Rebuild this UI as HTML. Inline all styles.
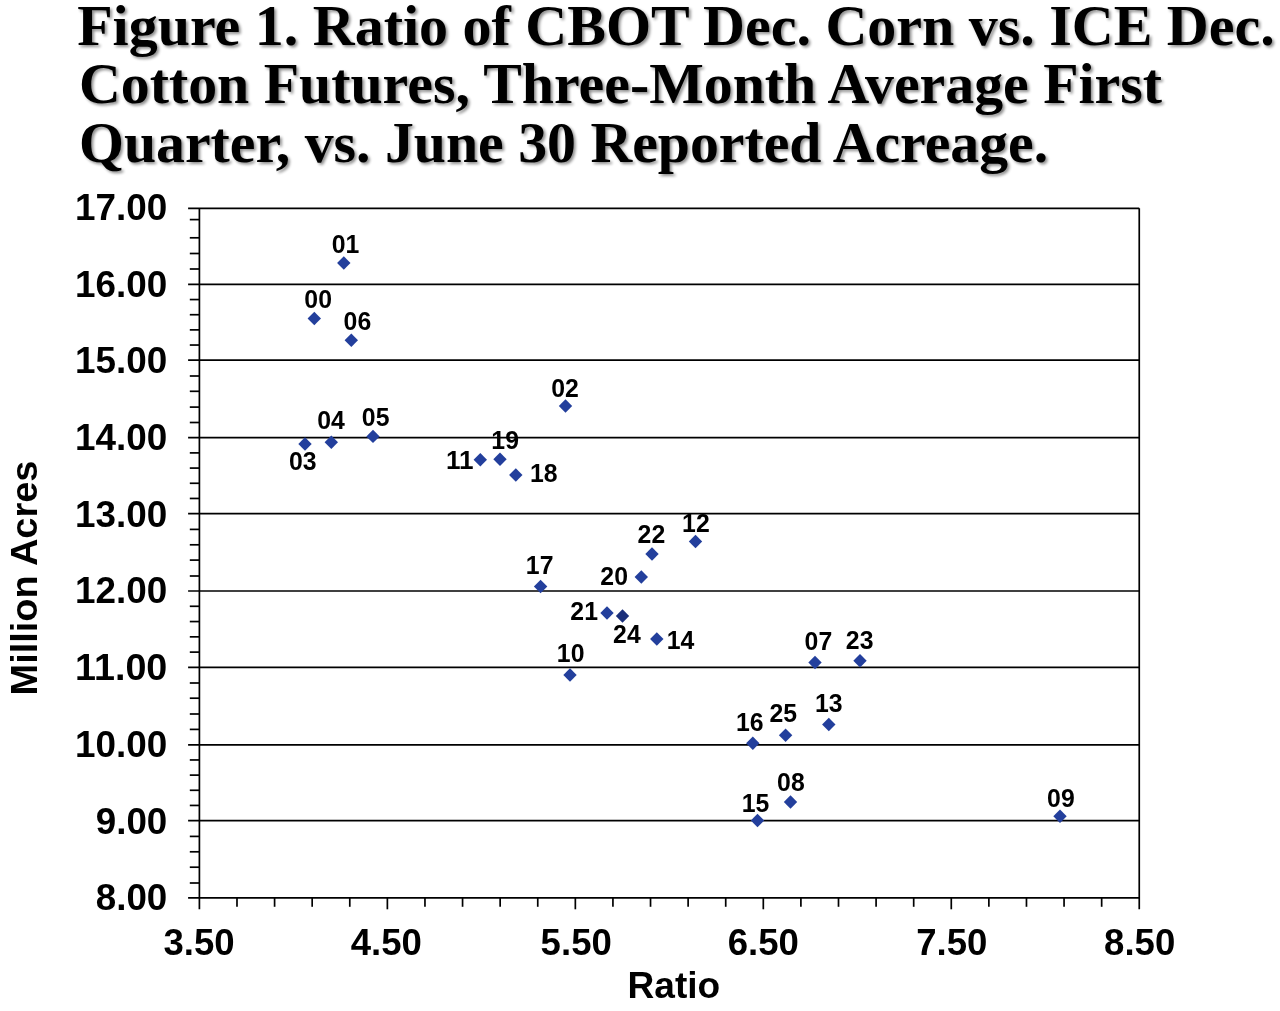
<!DOCTYPE html>
<html lang="en"><head><meta charset="utf-8"><title>Figure 1</title>
<style>
html,body{margin:0;padding:0;background:#fff;}
body{width:1280px;height:1011px;overflow:hidden;position:relative;}
svg{position:absolute;left:0;top:0;display:block;}
.t{font-family:"Liberation Serif","Times New Roman",serif;font-weight:bold;font-size:56px;fill:#000;}
.a{font-family:"Liberation Sans",Arial,sans-serif;font-weight:bold;font-size:36px;fill:#000;}
.d{font-family:"Liberation Sans",Arial,sans-serif;font-weight:bold;font-size:25.5px;fill:#000;}
</style></head><body>
<svg width="1280" height="1011" viewBox="0 0 1280 1011">
<defs><filter id="sh" x="-5%" y="-20%" width="110%" height="150%"><feGaussianBlur in="SourceAlpha" stdDeviation="1.5" result="b"/><feOffset in="b" dx="2" dy="2" result="o"/><feComponentTransfer in="o" result="s"><feFuncA type="linear" slope="0.45"/></feComponentTransfer><feMerge><feMergeNode in="s"/><feMergeNode in="SourceGraphic"/></feMerge></filter></defs>
<rect width="1280" height="1011" fill="#fff"/>

<g filter="url(#sh)">
<text class="t" x="77.2" y="44.5" textLength="1197.5" lengthAdjust="spacingAndGlyphs">Figure 1. Ratio of CBOT Dec. Corn vs. ICE Dec.</text>
<text class="t" x="79" y="103" textLength="1083" lengthAdjust="spacingAndGlyphs">Cotton Futures, Three-Month Average First</text>
<text class="t" x="79" y="162" textLength="969.2" lengthAdjust="spacingAndGlyphs">Quarter, vs. June 30 Reported Acreage.</text>
</g>
<g stroke="#000" stroke-width="1.7" fill="none">
<line x1="188.10" y1="208.30" x2="1139.25" y2="208.30"/>
<line x1="188.10" y1="284.40" x2="1139.25" y2="284.40"/>
<line x1="188.10" y1="360.20" x2="1139.25" y2="360.20"/>
<line x1="188.10" y1="437.70" x2="1139.25" y2="437.70"/>
<line x1="188.10" y1="513.65" x2="1139.25" y2="513.65"/>
<line x1="188.10" y1="591.00" x2="1139.25" y2="591.00"/>
<line x1="188.10" y1="667.40" x2="1139.25" y2="667.40"/>
<line x1="188.10" y1="744.80" x2="1139.25" y2="744.80"/>
<line x1="188.10" y1="820.60" x2="1139.25" y2="820.60"/>
<line x1="188.10" y1="897.80" x2="1139.25" y2="897.80"/>
<line x1="189.80" y1="219.60" x2="199.40" y2="219.60"/>
<line x1="189.80" y1="237.80" x2="199.40" y2="237.80"/>
<line x1="189.80" y1="253.50" x2="199.40" y2="253.50"/>
<line x1="189.80" y1="269.00" x2="199.40" y2="269.00"/>
<line x1="189.80" y1="299.56" x2="199.40" y2="299.56"/>
<line x1="189.80" y1="314.72" x2="199.40" y2="314.72"/>
<line x1="189.80" y1="329.88" x2="199.40" y2="329.88"/>
<line x1="189.80" y1="345.04" x2="199.40" y2="345.04"/>
<line x1="189.80" y1="376.00" x2="199.40" y2="376.00"/>
<line x1="189.80" y1="391.30" x2="199.40" y2="391.30"/>
<line x1="189.80" y1="407.10" x2="199.40" y2="407.10"/>
<line x1="189.80" y1="422.50" x2="199.40" y2="422.50"/>
<line x1="189.80" y1="452.89" x2="199.40" y2="452.89"/>
<line x1="189.80" y1="468.08" x2="199.40" y2="468.08"/>
<line x1="189.80" y1="483.27" x2="199.40" y2="483.27"/>
<line x1="189.80" y1="498.46" x2="199.40" y2="498.46"/>
<line x1="189.80" y1="529.40" x2="199.40" y2="529.40"/>
<line x1="189.80" y1="544.80" x2="199.40" y2="544.80"/>
<line x1="189.80" y1="560.10" x2="199.40" y2="560.10"/>
<line x1="189.80" y1="576.00" x2="199.40" y2="576.00"/>
<line x1="189.80" y1="606.28" x2="199.40" y2="606.28"/>
<line x1="189.80" y1="621.56" x2="199.40" y2="621.56"/>
<line x1="189.80" y1="636.84" x2="199.40" y2="636.84"/>
<line x1="189.80" y1="652.12" x2="199.40" y2="652.12"/>
<line x1="189.80" y1="683.00" x2="199.40" y2="683.00"/>
<line x1="189.80" y1="698.20" x2="199.40" y2="698.20"/>
<line x1="189.80" y1="714.00" x2="199.40" y2="714.00"/>
<line x1="189.80" y1="729.40" x2="199.40" y2="729.40"/>
<line x1="189.80" y1="759.96" x2="199.40" y2="759.96"/>
<line x1="189.80" y1="775.12" x2="199.40" y2="775.12"/>
<line x1="189.80" y1="790.28" x2="199.40" y2="790.28"/>
<line x1="189.80" y1="805.44" x2="199.40" y2="805.44"/>
<line x1="189.80" y1="836.40" x2="199.40" y2="836.40"/>
<line x1="189.80" y1="851.80" x2="199.40" y2="851.80"/>
<line x1="189.80" y1="867.20" x2="199.40" y2="867.20"/>
<line x1="189.80" y1="883.00" x2="199.40" y2="883.00"/>
<line x1="199.40" y1="208.30" x2="199.40" y2="909.30"/>
<line x1="1139.25" y1="208.30" x2="1139.25" y2="909.30"/>
<line x1="236.99" y1="897.80" x2="236.99" y2="906.80"/>
<line x1="274.59" y1="897.80" x2="274.59" y2="906.80"/>
<line x1="312.18" y1="897.80" x2="312.18" y2="906.80"/>
<line x1="349.78" y1="897.80" x2="349.78" y2="906.80"/>
<line x1="424.96" y1="897.80" x2="424.96" y2="906.80"/>
<line x1="462.56" y1="897.80" x2="462.56" y2="906.80"/>
<line x1="500.15" y1="897.80" x2="500.15" y2="906.80"/>
<line x1="537.75" y1="897.80" x2="537.75" y2="906.80"/>
<line x1="612.93" y1="897.80" x2="612.93" y2="906.80"/>
<line x1="650.53" y1="897.80" x2="650.53" y2="906.80"/>
<line x1="688.12" y1="897.80" x2="688.12" y2="906.80"/>
<line x1="725.72" y1="897.80" x2="725.72" y2="906.80"/>
<line x1="800.90" y1="897.80" x2="800.90" y2="906.80"/>
<line x1="838.50" y1="897.80" x2="838.50" y2="906.80"/>
<line x1="876.09" y1="897.80" x2="876.09" y2="906.80"/>
<line x1="913.69" y1="897.80" x2="913.69" y2="906.80"/>
<line x1="988.87" y1="897.80" x2="988.87" y2="906.80"/>
<line x1="1026.47" y1="897.80" x2="1026.47" y2="906.80"/>
<line x1="1064.06" y1="897.80" x2="1064.06" y2="906.80"/>
<line x1="1101.66" y1="897.80" x2="1101.66" y2="906.80"/>
<line x1="387.37" y1="897.80" x2="387.37" y2="909.30"/>
<line x1="575.34" y1="897.80" x2="575.34" y2="909.30"/>
<line x1="763.31" y1="897.80" x2="763.31" y2="909.30"/>
<line x1="951.28" y1="897.80" x2="951.28" y2="909.30"/>
</g>
<text class="a" x="75.10" y="219.90" textLength="92.2" lengthAdjust="spacingAndGlyphs">17.00</text>
<text class="a" x="75.10" y="296.60" textLength="92.2" lengthAdjust="spacingAndGlyphs">16.00</text>
<text class="a" x="75.10" y="373.30" textLength="92.2" lengthAdjust="spacingAndGlyphs">15.00</text>
<text class="a" x="75.10" y="450.00" textLength="92.2" lengthAdjust="spacingAndGlyphs">14.00</text>
<text class="a" x="75.10" y="526.70" textLength="92.2" lengthAdjust="spacingAndGlyphs">13.00</text>
<text class="a" x="75.10" y="603.40" textLength="92.2" lengthAdjust="spacingAndGlyphs">12.00</text>
<text class="a" x="75.10" y="680.10" textLength="92.2" lengthAdjust="spacingAndGlyphs">11.00</text>
<text class="a" x="75.10" y="756.80" textLength="92.2" lengthAdjust="spacingAndGlyphs">10.00</text>
<text class="a" x="95.80" y="833.50" textLength="71.5" lengthAdjust="spacingAndGlyphs">9.00</text>
<text class="a" x="95.80" y="910.20" textLength="71.5" lengthAdjust="spacingAndGlyphs">8.00</text>
<text class="a" x="163.40" y="955" textLength="71.2" lengthAdjust="spacingAndGlyphs">3.50</text>
<text class="a" x="350.67" y="955" textLength="71.2" lengthAdjust="spacingAndGlyphs">4.50</text>
<text class="a" x="540.64" y="955" textLength="71.2" lengthAdjust="spacingAndGlyphs">5.50</text>
<text class="a" x="727.71" y="955" textLength="71.2" lengthAdjust="spacingAndGlyphs">6.50</text>
<text class="a" x="916.18" y="955" textLength="71.2" lengthAdjust="spacingAndGlyphs">7.50</text>
<text class="a" x="1104.05" y="955" textLength="71.2" lengthAdjust="spacingAndGlyphs">8.50</text>
<text class="a" x="627.5" y="998" textLength="92.7" lengthAdjust="spacingAndGlyphs">Ratio</text>
<text class="a" style="font-size:37px" transform="translate(37 695.5) rotate(-90)" textLength="235" lengthAdjust="spacingAndGlyphs">Million Acres</text>
<path d="M343.80 256.30L350.50 263.00L343.80 269.70L337.10 263.00Z" fill="#233f9c"/>
<path d="M314.30 311.80L321.00 318.50L314.30 325.20L307.60 318.50Z" fill="#233f9c"/>
<path d="M351.30 333.60L358.00 340.30L351.30 347.00L344.60 340.30Z" fill="#233f9c"/>
<path d="M305.00 437.30L311.70 444.00L305.00 450.70L298.30 444.00Z" fill="#233f9c"/>
<path d="M331.30 435.60L338.00 442.30L331.30 449.00L324.60 442.30Z" fill="#233f9c"/>
<path d="M373.00 429.70L379.70 436.40L373.00 443.10L366.30 436.40Z" fill="#233f9c"/>
<path d="M565.50 399.30L572.20 406.00L565.50 412.70L558.80 406.00Z" fill="#233f9c"/>
<path d="M480.30 453.10L487.00 459.80L480.30 466.50L473.60 459.80Z" fill="#233f9c"/>
<path d="M500.00 452.60L506.70 459.30L500.00 466.00L493.30 459.30Z" fill="#233f9c"/>
<path d="M515.80 468.30L522.50 475.00L515.80 481.70L509.10 475.00Z" fill="#233f9c"/>
<path d="M652.00 547.30L658.70 554.00L652.00 560.70L645.30 554.00Z" fill="#233f9c"/>
<path d="M695.50 534.80L702.20 541.50L695.50 548.20L688.80 541.50Z" fill="#233f9c"/>
<path d="M641.30 570.30L648.00 577.00L641.30 583.70L634.60 577.00Z" fill="#233f9c"/>
<path d="M540.60 579.80L547.30 586.50L540.60 593.20L533.90 586.50Z" fill="#233f9c"/>
<path d="M607.00 606.30L613.70 613.00L607.00 619.70L600.30 613.00Z" fill="#233f9c"/>
<path d="M622.50 609.30L629.20 616.00L622.50 622.70L615.80 616.00Z" fill="#1a2f7a"/>
<path d="M656.80 632.30L663.50 639.00L656.80 645.70L650.10 639.00Z" fill="#233f9c"/>
<path d="M570.00 668.30L576.70 675.00L570.00 681.70L563.30 675.00Z" fill="#233f9c"/>
<path d="M752.80 736.50L759.50 743.20L752.80 749.90L746.10 743.20Z" fill="#233f9c"/>
<path d="M785.60 728.60L792.30 735.30L785.60 742.00L778.90 735.30Z" fill="#233f9c"/>
<path d="M815.00 655.80L821.70 662.50L815.00 669.20L808.30 662.50Z" fill="#233f9c"/>
<path d="M860.00 654.10L866.70 660.80L860.00 667.50L853.30 660.80Z" fill="#233f9c"/>
<path d="M828.80 717.80L835.50 724.50L828.80 731.20L822.10 724.50Z" fill="#233f9c"/>
<path d="M790.50 795.30L797.20 802.00L790.50 808.70L783.80 802.00Z" fill="#233f9c"/>
<path d="M757.50 813.80L764.20 820.50L757.50 827.20L750.80 820.50Z" fill="#233f9c"/>
<path d="M1060.00 809.60L1066.70 816.30L1060.00 823.00L1053.30 816.30Z" fill="#233f9c"/>
<text class="d" x="331.70" y="252.90" textLength="27.6" lengthAdjust="spacingAndGlyphs">01</text>
<text class="d" x="304.35" y="308.40" textLength="27.6" lengthAdjust="spacingAndGlyphs">00</text>
<text class="d" x="343.60" y="330.40" textLength="27.6" lengthAdjust="spacingAndGlyphs">06</text>
<text class="d" x="288.95" y="470.40" textLength="27.6" lengthAdjust="spacingAndGlyphs">03</text>
<text class="d" x="317.20" y="429.20" textLength="27.6" lengthAdjust="spacingAndGlyphs">04</text>
<text class="d" x="361.85" y="425.90" textLength="27.6" lengthAdjust="spacingAndGlyphs">05</text>
<text class="d" x="551.20" y="397.40" textLength="27.6" lengthAdjust="spacingAndGlyphs">02</text>
<text class="d" x="445.95" y="469.20" textLength="27.6" lengthAdjust="spacingAndGlyphs">11</text>
<text class="d" x="491.35" y="449.20" textLength="27.6" lengthAdjust="spacingAndGlyphs">19</text>
<text class="d" x="530.00" y="482.20" textLength="27.6" lengthAdjust="spacingAndGlyphs">18</text>
<text class="d" x="637.60" y="543.40" textLength="27.6" lengthAdjust="spacingAndGlyphs">22</text>
<text class="d" x="682.10" y="531.70" textLength="27.6" lengthAdjust="spacingAndGlyphs">12</text>
<text class="d" x="600.35" y="585.40" textLength="27.6" lengthAdjust="spacingAndGlyphs">20</text>
<text class="d" x="525.85" y="574.40" textLength="27.6" lengthAdjust="spacingAndGlyphs">17</text>
<text class="d" x="570.35" y="619.90" textLength="27.6" lengthAdjust="spacingAndGlyphs">21</text>
<text class="d" x="613.10" y="642.90" textLength="27.6" lengthAdjust="spacingAndGlyphs">24</text>
<text class="d" x="666.70" y="649.20" textLength="27.6" lengthAdjust="spacingAndGlyphs">14</text>
<text class="d" x="556.85" y="662.40" textLength="27.6" lengthAdjust="spacingAndGlyphs">10</text>
<text class="d" x="735.95" y="730.70" textLength="27.6" lengthAdjust="spacingAndGlyphs">16</text>
<text class="d" x="769.45" y="722.10" textLength="27.6" lengthAdjust="spacingAndGlyphs">25</text>
<text class="d" x="804.60" y="650.40" textLength="27.6" lengthAdjust="spacingAndGlyphs">07</text>
<text class="d" x="845.85" y="648.70" textLength="27.6" lengthAdjust="spacingAndGlyphs">23</text>
<text class="d" x="815.00" y="711.90" textLength="27.6" lengthAdjust="spacingAndGlyphs">13</text>
<text class="d" x="777.10" y="790.90" textLength="27.6" lengthAdjust="spacingAndGlyphs">08</text>
<text class="d" x="741.70" y="811.70" textLength="27.6" lengthAdjust="spacingAndGlyphs">15</text>
<text class="d" x="1047.10" y="807.20" textLength="27.6" lengthAdjust="spacingAndGlyphs">09</text>
</svg></body></html>
